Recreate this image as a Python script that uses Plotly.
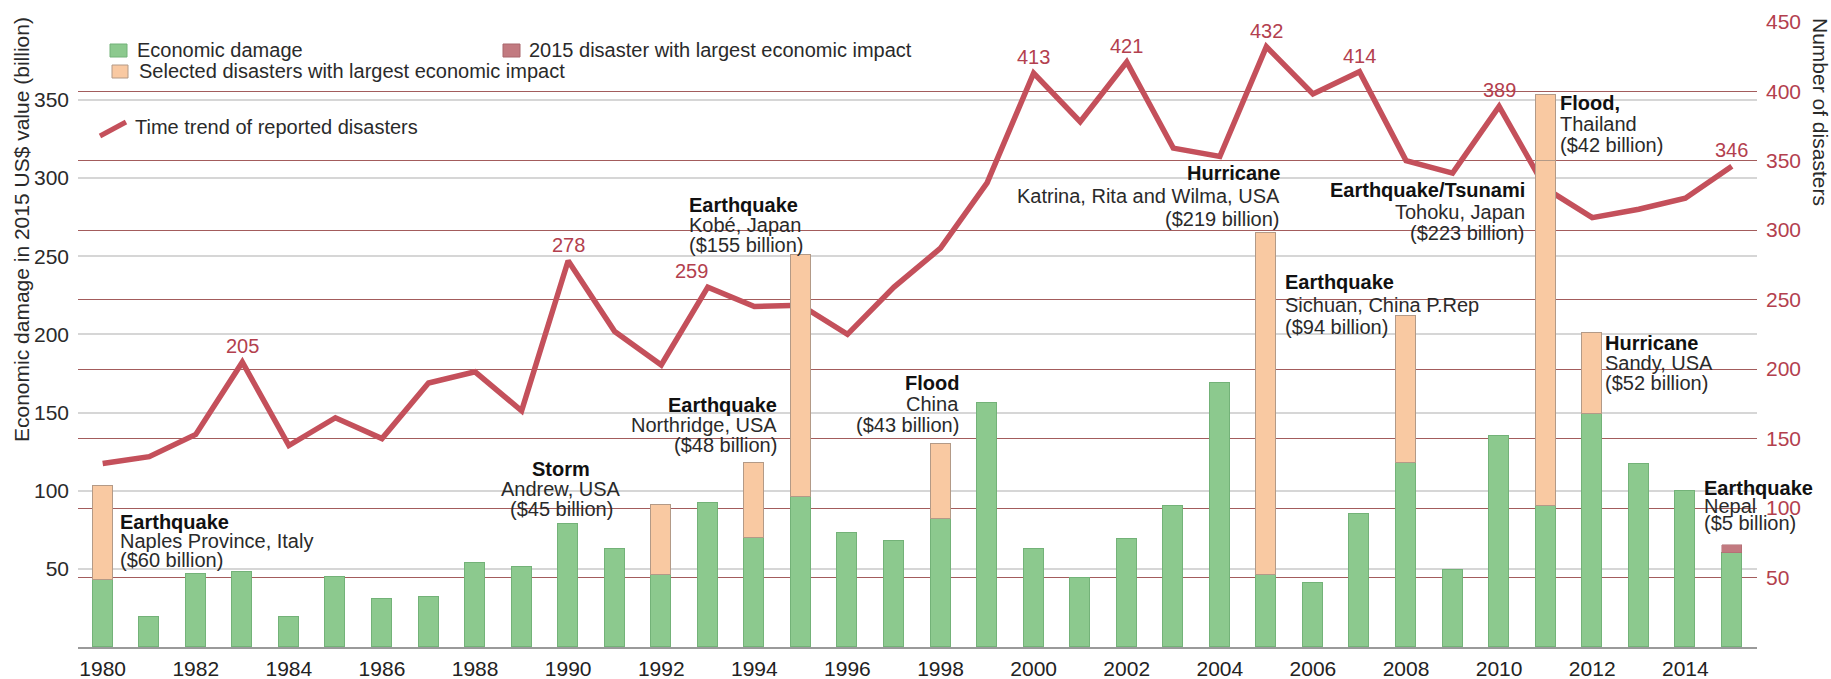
import plotly.graph_objects as go

# ---------------- data ----------------
years = list(range(1980, 2016))
damage = [43, 19, 47, 48, 19, 45, 31, 32, 54, 51, 79, 63, 46, 92, 70, 96, 73, 68,
          82, 156, 63, 44, 69, 90, 169, 46, 41, 85, 118, 49, 135, 90, 149, 117, 100, 60]
selected_years = [1980, 1992, 1994, 1995, 1998, 2005, 2008, 2011, 2012]
selected_values = [60, 45, 48, 155, 48, 219, 94, 221, 52]
selected_top_years = [2011]
selected_top_values = [42]
largest2015_years = [2015]
largest2015_values = [5]
disasters = [132, 137, 153, 205, 145, 165, 150, 190, 198, 170, 278, 227, 203, 259, 245, 246,
             225, 259, 287, 334, 413, 378, 421, 359, 353, 432, 398, 414, 350, 341, 389, 330,
             309, 315, 323, 346]
labeled_years = [1983, 1990, 1993, 2000, 2002, 2005, 2007, 2010, 2015]
tick_years = list(range(1980, 2015, 2))
left_ticks = [50, 100, 150, 200, 250, 300, 350]
right_ticks = [50, 100, 150, 200, 250, 300, 350, 400, 450]

disaster_notes = [
    ["Earthquake", "Naples Province, Italy", "($60 billion)"],
    ["Storm", "Andrew, USA", "($45 billion)"],
    ["Earthquake", "Northridge, USA", "($48 billion)"],
    ["Earthquake", "Kobé, Japan", "($155 billion)"],
    ["Flood", "China", "($43 billion)"],
    ["Hurricane", "Katrina, Rita and Wilma, USA", "($219 billion)"],
    ["Earthquake", "Sichuan, China P.Rep", "($94 billion)"],
    ["Earthquake/Tsunami", "Tohoku, Japan", "($223 billion)"],
    ["Flood,", "Thailand", "($42 billion)"],
    ["Hurricane", "Sandy, USA", "($52 billion)"],
    ["Earthquake", "Nepal", "($5 billion)"],
]
# placement of the notes: (x in years, first-line y in damage units, anchor, line step px)
note_places = [
    (1980.33, 79.9, "left", 19),
    (1989.85, 113.8, "center", 20),
    (1994.53, 154.7, "right", 20),
    (1992.55, 283.0, "left", 20),
    (1998.44, 168.8, "right", 21),
    (2005.33, 303.1, "right", 23),
    (2005.36, 233.4, "left", 22.5),
    (2010.60, 292.2, "right", 21.5),
    (2011.26, 347.8, "left", 21),
    (2012.23, 194.4, "left", 20),
    (2014.36, 101.7, "left", 17.5),
]
label_xshift = {1993: -16}

FONT = "Liberation Sans, Arial, sans-serif"
GREEN = "#8cc98e"
PEACH = "#f9c9a2"
ROSE = "#c27a80"
LINE_RED = "#c4505b"
LABEL_RED = "#b3404e"

W, H = 1831, 679
ML, MR, MT, MB = 78, 74, 21, 32
PW, PH = W - ML - MR, H - MT - MB


def pxx(xp):
    return (xp - ML) / PW


def pxy(yp):
    return (H - MB - yp) / PH


def by_year(yrs, vals):
    d = dict(zip(yrs, vals))
    return [d.get(y) for y in years]


fig = go.Figure()

# line first (base axis, right side) so that bars are drawn over it
fig.add_trace(go.Scatter(
    x=years, y=disasters, mode="lines", yaxis="y", xaxis="x",
    line=dict(color=LINE_RED, width=5.5), showlegend=False, hoverinfo="skip"))

bar_w = 0.43
fig.add_trace(go.Bar(x=years, y=damage, yaxis="y2", width=bar_w,
                     marker=dict(color=GREEN, line=dict(color="#73b278", width=1)),
                     showlegend=False, hoverinfo="skip"))
fig.add_trace(go.Bar(x=years, y=by_year(selected_years, selected_values), yaxis="y2", width=bar_w,
                     marker=dict(color=PEACH, line=dict(color="#b39a87", width=1)),
                     showlegend=False, hoverinfo="skip"))
fig.add_trace(go.Bar(x=years, y=by_year(selected_top_years, selected_top_values), yaxis="y2", width=bar_w,
                     marker=dict(color=PEACH, line=dict(color="#b39a87", width=1)),
                     showlegend=False, hoverinfo="skip"))
fig.add_trace(go.Bar(x=years, y=by_year(largest2015_years, largest2015_values), yaxis="y2", width=bar_w,
                     marker=dict(color=ROSE, line=dict(color="#a9666c", width=0.5)),
                     showlegend=False, hoverinfo="skip"))

annotations = []
# value labels on the trend line
for yr in labeled_years:
    n = disasters[years.index(yr)]
    annotations.append(dict(x=yr, y=n, xref="x", yref="y", text=str(n), showarrow=False,
                            yanchor="bottom", yshift=3, xshift=label_xshift.get(yr, 0),
                            font=dict(family=FONT, size=20, color=LABEL_RED)))

# disaster notes
for lines, (nx, ny, anchor, step) in zip(disaster_notes, note_places):
    for i, t in enumerate(lines):
        txt = "<b>%s</b>" % t if i == 0 else t
        annotations.append(dict(x=nx, y=ny, xref="x", yref="y2", text=txt, showarrow=False,
                                xanchor=anchor, yanchor="middle", align=anchor,
                                yshift=-i * step,
                                font=dict(family=FONT, size=20,
                                          color="#111111" if i == 0 else "#2a2a2a")))

# axis titles
annotations.append(dict(x=pxx(22), y=pxy(230), xref="paper", yref="paper",
                        xanchor="center", yanchor="middle",
                        text="Economic damage in 2015 US$ value (billion)", textangle=-90,
                        showarrow=False, font=dict(family=FONT, size=21, color="#2a2a2a")))
annotations.append(dict(x=pxx(1820), y=pxy(112), xref="paper", yref="paper",
                        xanchor="center", yanchor="middle",
                        text="Number of disasters", textangle=90,
                        showarrow=False, font=dict(family=FONT, size=21, color="#2a2a2a")))

# manual legend
legend_items = [
    ("Economic damage", 135, 50),
    ("Selected disasters with largest economic impact", 137, 71),
    ("2015 disaster with largest economic impact", 527, 50),
    ("Time trend of reported disasters", 133, 127),
]
for t, lx, ly in legend_items:
    annotations.append(dict(x=pxx(lx), y=pxy(ly), xref="paper", yref="paper", text=t,
                            showarrow=False, xanchor="left", yanchor="middle",
                            font=dict(family=FONT, size=20, color="#2a2a2a")))

shapes = [
    dict(type="rect", xref="paper", yref="paper", x0=pxx(110), x1=pxx(127), y0=pxy(57), y1=pxy(44),
         fillcolor=GREEN, line=dict(color="#73b278", width=1)),
    dict(type="rect", xref="paper", yref="paper", x0=pxx(112), x1=pxx(128), y0=pxy(78), y1=pxy(65),
         fillcolor=PEACH, line=dict(color="#b39a87", width=1)),
    dict(type="rect", xref="paper", yref="paper", x0=pxx(503), x1=pxx(520), y0=pxy(57), y1=pxy(44),
         fillcolor=ROSE, line=dict(color="#a9666c", width=1)),
    dict(type="line", xref="paper", yref="paper", x0=pxx(100), x1=pxx(126), y0=pxy(136), y1=pxy(122),
         line=dict(color=LINE_RED, width=5)),
]

fig.update_layout(
    width=W, height=H,
    margin=dict(l=ML, r=MR, t=MT, b=MB, pad=0, autoexpand=False),
    paper_bgcolor="white", plot_bgcolor="white",
    barmode="stack", bargap=0,
    showlegend=False,
    font=dict(family=FONT, size=20, color="#2a2a2a"),
    xaxis=dict(range=[1979.47, 2015.54], tickvals=tick_years, showgrid=False, zeroline=False,
               showline=True, linecolor="#9a9a9a", linewidth=1.5, ticks="", automargin=False,
               tickfont=dict(family=FONT, size=21, color="#222222"), ticklabelstandoff=2),
    yaxis=dict(side="right", range=[0, 450.5], tickvals=right_ticks, showgrid=True, automargin=False,
               gridcolor="#a35c5c", gridwidth=1.3, zeroline=False, showline=False, ticks="",
               tickfont=dict(family=FONT, size=21, color=LABEL_RED), ticklabelstandoff=8),
    yaxis2=dict(side="left", overlaying="y", range=[0, 400.44], tickvals=left_ticks, showgrid=True,
                automargin=False,
                gridcolor="#d6d6d6", gridwidth=1.5, zeroline=False, showline=False, ticks="",
                tickfont=dict(family=FONT, size=21, color="#2a2a2a"), ticklabelstandoff=8),
    annotations=annotations,
    shapes=shapes,
)

fig.write_html("out.html", config={"displayModeBar": False},
               post_script="document.body.style.margin='0px';document.body.style.overflow='hidden';")
